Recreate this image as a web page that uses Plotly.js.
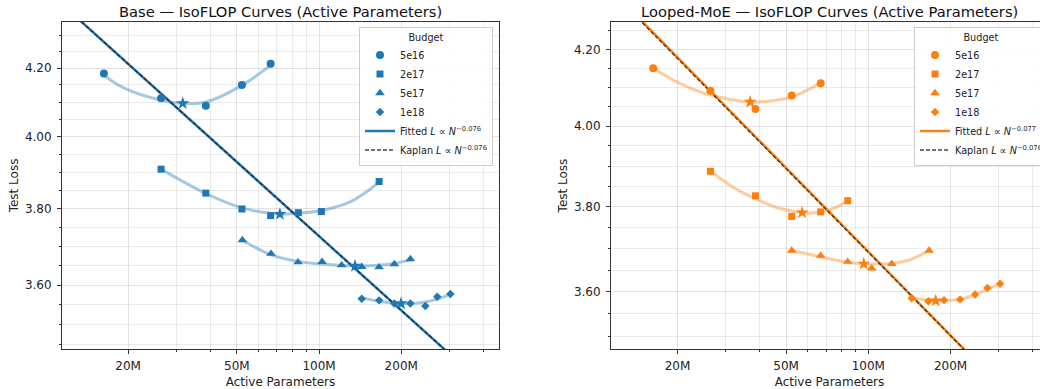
<!DOCTYPE html>
<html><head><meta charset="utf-8">
<script src="https://cdn.plot.ly/plotly-3.0.1.min.js"></script>
<style>html,body{margin:0;padding:0;overflow:hidden;background:#fff}#chart{width:1050px;height:389px}</style>
</head><body><div id="chart"></div><script>
// ---------- Base panel data ----------
const budgets = ['5e16', '2e17', '5e17', '1e18'];
const base5e16N = [16.3e6, 26.4e6, 38.5e6, 52.2e6, 66.5e6];
const base5e16L = [4.184, 4.111, 4.089, 4.150, 4.213];
const base2e17N = [26.4e6, 38.5e6, 52.2e6, 66.5e6, 84e6, 102e6, 166e6];
const base2e17L = [3.909, 3.843, 3.800, 3.782, 3.790, 3.793, 3.875];
const base5e17N = [52.4e6, 66.7e6, 83.8e6, 102.6e6, 121e6, 143.3e6, 166e6, 188.7e6, 216e6];
const base5e17L = [3.717, 3.681, 3.659, 3.660, 3.651, 3.647, 3.646, 3.654, 3.667];
const base1e18N = [143.3e6, 166e6, 188.7e6, 216e6, 245e6, 271e6, 302.7e6];
const base1e18L = [3.565, 3.561, 3.553, 3.553, 3.547, 3.570, 3.577];
const baseOptN = [31.7e6, 71.9e6, 135.5e6, 199.7e6];
const baseOptL = [4.096, 3.786, 3.649, 3.553];
const baseCurve5e16N = [16.3e6, 19.2e6, 26.4e6, 31.7e6, 38.5e6, 52.2e6, 66.5e6];
const baseCurve5e16L = [4.179, 4.142, 4.105, 4.096, 4.100, 4.149, 4.209];
const baseCurve2e17N = [26.4e6, 38.5e6, 52.2e6, 71.9e6, 83.8e6, 102.6e6, 129.9e6, 149.5e6, 166e6];
const baseCurve2e17L = [3.909, 3.842, 3.803, 3.786, 3.789, 3.796, 3.819, 3.847, 3.874];
const baseCurve5e17N = [52.4e6, 66.7e6, 83.8e6, 102.6e6, 121e6, 135.5e6, 166e6, 188.7e6, 216e6];
const baseCurve5e17L = [3.7165, 3.678, 3.661, 3.654, 3.651, 3.649, 3.651, 3.6555, 3.665];
const baseCurve1e18N = [143.3e6, 166e6, 188.7e6, 199.7e6, 216e6, 245e6, 271e6, 302.7e6];
const baseCurve1e18L = [3.567, 3.559, 3.554, 3.553, 3.553, 3.557, 3.564, 3.577];
const baseFitN = [13.0e6, 300e6];
const baseFitL = [4.353, 3.4285];
const baseKapN = [13.0e6, 300e6];
const baseKapL = [4.353, 3.4285];
const baseFitLabel = 'Fitted <i>L</i> ∝ <i>N</i><sup>−0.076</sup>';
const baseKapLabel = 'Kaplan <i>L</i> ∝ <i>N</i><sup>−0.076</sup>';

// ---------- Looped-MoE panel data ----------
const loop5e16N = [16.3e6, 26.4e6, 38.6e6, 52.4e6, 66.9e6];
const loop5e16L = [4.150, 4.091, 4.044, 4.079, 4.111];
const loop2e17N = [26.4e6, 38.6e6, 52.4e6, 66.9e6, 84e6];
const loop2e17L = [3.887, 3.827, 3.777, 3.788, 3.815];
const loop5e17N = [52.4e6, 66.9e6, 84e6, 102.9e6, 121.8e6, 166.9e6];
const loop5e17L = [3.696, 3.684, 3.670, 3.6545, 3.665, 3.696];
const loop1e18N = [144.2e6, 165.9e6, 189.4e6, 216.7e6, 246e6, 272.9e6, 303.6e6];
const loop1e18L = [3.5855, 3.579, 3.581, 3.583, 3.594, 3.609, 3.619];
const loopOptN = [36.9e6, 57.2e6, 96.2e6, 176.5e6];
const loopOptL = [4.062, 3.786, 3.665, 3.580];
const loopCurve5e16N = [16.3e6, 19.3e6, 22.5e6, 26.4e6, 36.9e6, 45e6, 52.4e6, 66.9e6];
const loopCurve5e16L = [4.150, 4.119, 4.097, 4.080, 4.062, 4.066, 4.075, 4.111];
const loopCurve2e17N = [26.4e6, 33e6, 38.6e6, 45e6, 52.4e6, 57.2e6, 66.9e6, 75e6, 84e6];
const loopCurve2e17L = [3.887, 3.842, 3.820, 3.801, 3.790, 3.786, 3.787, 3.797, 3.815];
const loopCurve5e17N = [52.4e6, 66.9e6, 84e6, 96.2e6, 121.8e6, 142.1e6, 166.9e6];
const loopCurve5e17L = [3.696, 3.681, 3.6685, 3.665, 3.666, 3.6745, 3.696];
const loopCurve1e18N = [144.2e6, 165.9e6, 176.5e6, 216.7e6, 246e6, 272.9e6, 303.6e6];
const loopCurve1e18L = [3.587, 3.581, 3.580, 3.583, 3.594, 3.606, 3.619];
const loopFitN = [14.0e6, 230e6];
const loopFitL = [4.295, 3.4645];
const loopKapN = [13.85e6, 230e6];
const loopKapL = [4.295, 3.4640];
const loopFitLabel = 'Fitted <i>L</i> ∝ <i>N</i><sup>−0.077</sup>';
const loopKapLabel = 'Kaplan <i>L</i> ∝ <i>N</i><sup>−0.076</sup>';

// ---------- Tick labels ----------
const xTickVals = [2e7, 5e7, 1e8, 2e8];
const xTickText = ['20M', '50M', '100M', '200M'];
const xMinorVals = [3e7, 4e7, 6e7, 7e7, 8e7, 9e7, 3e8, 4e8];
const yTickVals = [3.6, 3.8, 4.0, 4.2];
const yTickText = ['3.60', '3.80', '4.00', '4.20'];
const yMinorVals = [3.45, 3.5, 3.55, 3.65, 3.7, 3.75, 3.85, 3.9, 3.95, 4.05, 4.1, 4.15, 4.25, 4.3];

const FONT = 'DejaVu Sans, Verdana, sans-serif';
const symbols = ['circle', 'square', 'triangle-up', 'diamond'];
const msizes = [8, 7, 8.5, 6.5];

function panel(p, color, curveColor, markN, markL, curveN, curveL, optN, optL, fitN, fitL, kapN, kapL, fitLabel, kapLabel) {
  const xa = p === 1 ? 'x' : 'x2', ya = p === 1 ? 'y' : 'y2', lg = p === 1 ? 'legend' : 'legend2';
  const tr = [];
  for (let i = 0; i < 4; i++) {
    tr.push({x: curveN[i], y: curveL[i], xaxis: xa, yaxis: ya, mode: 'lines', type: 'scatter',
      line: {color: curveColor, width: 3, shape: 'spline', smoothing: 1}, showlegend: false, hoverinfo: 'skip'});
  }
  tr.push({x: fitN, y: fitL, xaxis: xa, yaxis: ya, mode: 'lines', type: 'scatter', name: fitLabel,
    line: {color: color, width: 2.5}, legend: lg, legendrank: 5});
  tr.push({x: kapN, y: kapL, xaxis: xa, yaxis: ya, mode: 'lines', type: 'scatter', name: kapLabel,
    line: {color: 'rgba(35,35,35,0.85)', width: 1.3, dash: '4px,2px'}, legend: lg, legendrank: 6});
  for (let i = 0; i < 4; i++) {
    tr.push({x: markN[i], y: markL[i], xaxis: xa, yaxis: ya, mode: 'markers', type: 'scatter', name: budgets[i],
      marker: {symbol: symbols[i], size: msizes[i], color: color}, legend: lg, legendrank: i + 1});
  }
  tr.push({x: optN, y: optL, xaxis: xa, yaxis: ya, mode: 'markers', type: 'scatter',
    marker: {symbol: 'star', size: 10, color: color}, showlegend: false});
  return tr;
}

const data = [].concat(
  panel(1, '#1f77b4', 'rgba(31,119,180,0.4)',
    [base5e16N, base2e17N, base5e17N, base1e18N], [base5e16L, base2e17L, base5e17L, base1e18L],
    [baseCurve5e16N, baseCurve2e17N, baseCurve5e17N, baseCurve1e18N], [baseCurve5e16L, baseCurve2e17L, baseCurve5e17L, baseCurve1e18L],
    baseOptN, baseOptL, baseFitN, baseFitL, baseKapN, baseKapL, baseFitLabel, baseKapLabel),
  panel(2, '#ff7f0e', 'rgba(255,127,14,0.4)',
    [loop5e16N, loop2e17N, loop5e17N, loop1e18N], [loop5e16L, loop2e17L, loop5e17L, loop1e18L],
    [loopCurve5e16N, loopCurve2e17N, loopCurve5e17N, loopCurve1e18N], [loopCurve5e16L, loopCurve2e17L, loopCurve5e17L, loopCurve1e18L],
    loopOptN, loopOptL, loopFitN, loopFitL, loopKapN, loopKapL, loopFitLabel, loopKapLabel)
);

function xaxis(domain, range, anchor) {
  return {type: 'log', domain: domain, range: range, anchor: anchor,
    tickmode: 'array', tickvals: xTickVals, ticktext: xTickText,
    ticks: 'outside', ticklen: 4, tickwidth: 1, tickcolor: '#333', ticklabelstandoff: 2,
    showline: true, linecolor: '#333', linewidth: 1, mirror: true,
    showgrid: true, gridcolor: 'rgba(0,0,0,0.11)', gridwidth: 1, zeroline: false,
    minor: {tickmode: 'array', tickvals: xMinorVals, ticks: 'outside', ticklen: 2, tickcolor: '#333',
      showgrid: true, gridcolor: 'rgba(0,0,0,0.08)', gridwidth: 1},
    tickfont: {family: FONT, size: 12, color: '#222'},
    title: {text: 'Active Parameters', font: {family: FONT, size: 12, color: '#222'}, standoff: 5}};
}
function yaxis(range, anchor) {
  return {type: 'log', domain: [0, 1], range: range, anchor: anchor,
    tickmode: 'array', tickvals: yTickVals, ticktext: yTickText,
    ticks: 'outside', ticklen: 4, tickwidth: 1, tickcolor: '#333', ticklabelstandoff: 3,
    showline: true, linecolor: '#333', linewidth: 1, mirror: true,
    showgrid: true, gridcolor: 'rgba(0,0,0,0.11)', gridwidth: 1, zeroline: false,
    minor: {tickmode: 'array', tickvals: yMinorVals, ticks: 'outside', ticklen: 2, tickcolor: '#333',
      showgrid: true, gridcolor: 'rgba(0,0,0,0.08)', gridwidth: 1},
    tickfont: {family: FONT, size: 12, color: '#222'},
    title: {text: 'Test Loss', font: {family: FONT, size: 12, color: '#222'}, standoff: 3}};
}
const legendBase = {
  bgcolor: 'rgba(255,255,255,0.85)', bordercolor: '#cccccc', borderwidth: 1,
  font: {family: FONT, size: 9.7, color: '#222'},
  title: {text: 'Budget', side: 'top center', font: {family: FONT, size: 9.7, color: '#222'}},
  xanchor: 'right', yanchor: 'top', itemwidth: 30, traceorder: 'normal', tracegroupgap: 0
};

const layout = {
  width: 1050, height: 389,
  margin: {l: 62, r: 2, t: 22, b: 40},
  paper_bgcolor: '#fff', plot_bgcolor: '#fff',
  font: {family: FONT, color: '#222'},
  xaxis: xaxis([0, 0.4432], [7.0588, 8.659], 'y'),
  yaxis: yaxis([0.53656, 0.63749], 'x'),
  xaxis2: xaxis([0.5568, 1], [7.0575, 8.658], 'y2'),
  yaxis2: yaxis([0.54055, 0.63083], 'x2'),
  legend: Object.assign({}, legendBase, {x: 0.4371, y: 0.985}),
  legend2: Object.assign({}, legendBase, {x: 1.0, y: 0.985}),
  annotations: [
    {text: 'Base — IsoFLOP Curves (Active Parameters)', xref: 'paper', yref: 'paper', x: 0.2216, y: 1,
      xanchor: 'center', yanchor: 'bottom', yshift: 0, showarrow: false, font: {family: FONT, size: 14.7, color: '#111'}},
    {text: 'Looped-MoE — IsoFLOP Curves (Active Parameters)', xref: 'paper', yref: 'paper', x: 0.7784, y: 1,
      xanchor: 'center', yanchor: 'bottom', yshift: 0, showarrow: false, font: {family: FONT, size: 14.7, color: '#111'}}
  ],
  showlegend: true
};

Plotly.newPlot('chart', data, layout, {displayModeBar: false, staticPlot: true});
</script></body></html>
